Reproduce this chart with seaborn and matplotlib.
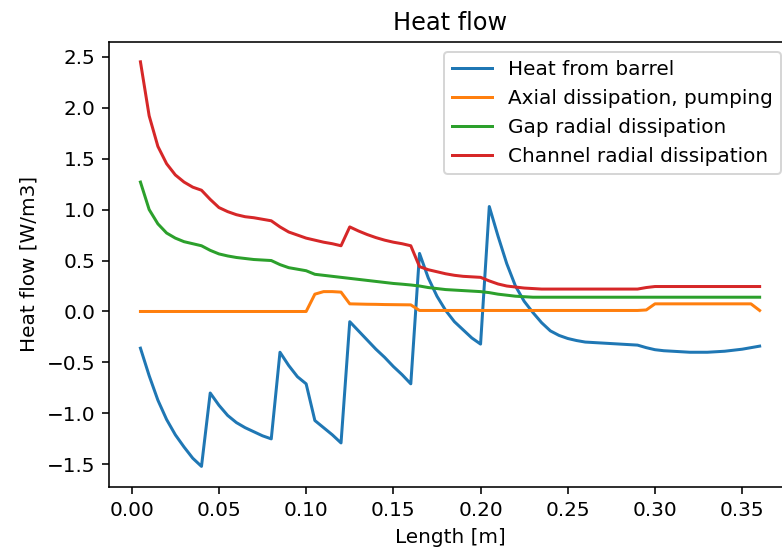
import matplotlib
matplotlib.use("Agg")
import matplotlib.pyplot as plt
import numpy as np
import pandas as pd
import seaborn as sns

# Axial positions along the screw [m]
length = np.round(np.arange(1, 73) * 0.005, 3)

heat_from_barrel = [
    -0.36, -0.63, -0.87, -1.06, -1.21, -1.33, -1.44, -1.52,
    -0.80, -0.92, -1.02, -1.09, -1.14, -1.18, -1.22, -1.25,
    -0.40, -0.53, -0.64, -0.71, -1.07, -1.14, -1.21, -1.29,
    -0.10, -0.19, -0.28, -0.37, -0.45, -0.54, -0.62, -0.71,
    0.57, 0.33, 0.15, 0.01, -0.10, -0.18, -0.26, -0.32,
    1.03, 0.74, 0.47, 0.25, 0.10, -0.01, -0.11, -0.19,
    -0.235, -0.265, -0.285, -0.30, -0.305, -0.31, -0.315, -0.32,
    -0.325, -0.33, -0.355, -0.375, -0.385, -0.39, -0.395, -0.40,
    -0.40, -0.40, -0.395, -0.39, -0.38, -0.37, -0.355, -0.34,
]

axial_dissipation = [
    0.0, 0.0, 0.0, 0.0, 0.0, 0.0, 0.0, 0.0,
    0.0, 0.0, 0.0, 0.0, 0.0, 0.0, 0.0, 0.0,
    0.0, 0.0, 0.0, 0.0, 0.17, 0.195, 0.195, 0.19,
    0.075, 0.073, 0.071, 0.07, 0.068, 0.067, 0.066, 0.065,
    0.01, 0.01, 0.01, 0.01, 0.01, 0.01, 0.01, 0.01,
    0.01, 0.01, 0.01, 0.01, 0.01, 0.01, 0.01, 0.01,
    0.01, 0.01, 0.01, 0.01, 0.01, 0.01, 0.01, 0.01,
    0.01, 0.01, 0.015, 0.075, 0.075, 0.075, 0.075, 0.075,
    0.075, 0.075, 0.075, 0.075, 0.075, 0.075, 0.075, 0.01,
]

gap_radial = [
    1.27, 1.00, 0.86, 0.77, 0.72, 0.685, 0.665, 0.645,
    0.60, 0.565, 0.545, 0.53, 0.52, 0.51, 0.505, 0.50,
    0.46, 0.43, 0.415, 0.40, 0.365, 0.355, 0.345, 0.335,
    0.325, 0.315, 0.305, 0.295, 0.285, 0.275, 0.268, 0.26,
    0.25, 0.235, 0.225, 0.215, 0.21, 0.205, 0.20, 0.195,
    0.185, 0.17, 0.16, 0.15, 0.145, 0.14, 0.14, 0.14,
    0.14, 0.14, 0.14, 0.14, 0.14, 0.14, 0.14, 0.14,
    0.14, 0.14, 0.14, 0.14, 0.14, 0.14, 0.14, 0.14,
    0.14, 0.14, 0.14, 0.14, 0.14, 0.14, 0.14, 0.14,
]

channel_radial = [
    2.45, 1.92, 1.62, 1.45, 1.34, 1.27, 1.22, 1.19,
    1.10, 1.02, 0.98, 0.95, 0.93, 0.92, 0.905, 0.89,
    0.83, 0.78, 0.75, 0.72, 0.70, 0.68, 0.665, 0.645,
    0.83, 0.79, 0.755, 0.725, 0.70, 0.68, 0.665, 0.645,
    0.44, 0.41, 0.39, 0.37, 0.355, 0.345, 0.34, 0.335,
    0.30, 0.27, 0.25, 0.24, 0.23, 0.225, 0.22, 0.22,
    0.22, 0.22, 0.22, 0.22, 0.22, 0.22, 0.22, 0.22,
    0.22, 0.22, 0.235, 0.245, 0.245, 0.245, 0.245, 0.245,
    0.245, 0.245, 0.245, 0.245, 0.245, 0.245, 0.245, 0.245,
]

series = {
    "Heat from barrel": heat_from_barrel,
    "Axial dissipation, pumping": axial_dissipation,
    "Gap radial dissipation": gap_radial,
    "Channel radial dissipation": channel_radial,
}
colors = ["#1f77b4", "#ff7f0e", "#2ca02c", "#d62728"]

fig = plt.figure(figsize=(782 / 144, 556 / 144), dpi=144)
# The plotting area runs a little past the right edge of the canvas
ax = fig.add_axes([0.1400, 0.1248, 0.871, 0.8004])

for (label, values), color in zip(series.items(), colors):
    df = pd.DataFrame({"Length": length, "Heat flow": values})
    sns.lineplot(data=df, x="Length", y="Heat flow", color=color,
                 linewidth=1.5, label=label, ax=ax)

ax.set_title("Heat flow")
ax.set_xlabel("Length [m]")
ax.set_ylabel("Heat flow [W/m3]")
ax.set_xticks([0.0, 0.05, 0.10, 0.15, 0.20, 0.25, 0.30, 0.35])
ax.set_xticklabels(["0.00", "0.05", "0.10", "0.15", "0.20", "0.25", "0.30", "0.35"])
ax.spines["right"].set_visible(False)
ax.legend(loc="upper right")

fig.savefig("out.png", dpi=144)
